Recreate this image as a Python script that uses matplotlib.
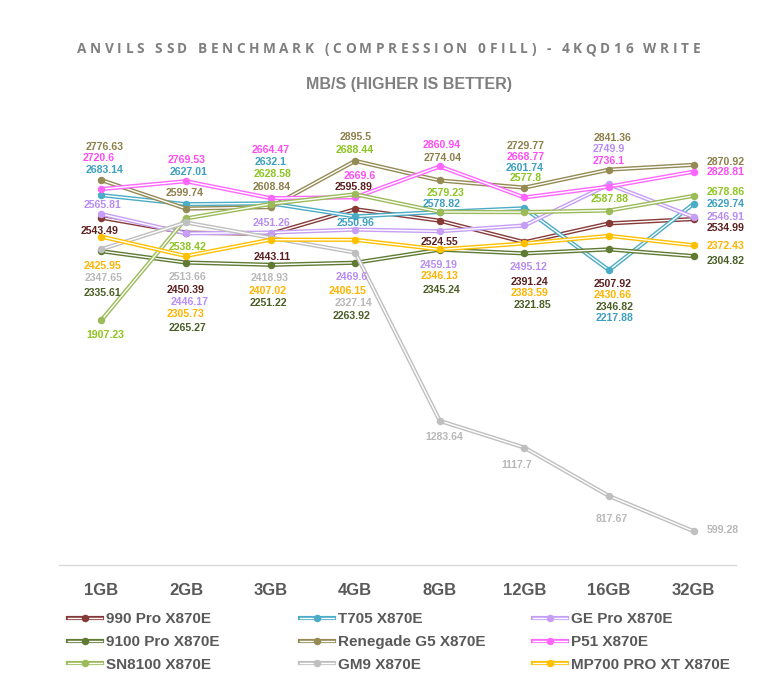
import matplotlib
matplotlib.use("Agg")
import matplotlib.pyplot as plt
from matplotlib.lines import Line2D
from matplotlib.legend_handler import HandlerTuple

categories = ['1GB', '2GB', '3GB', '4GB', '8GB', '12GB', '16GB', '32GB']

series_names = ['990 Pro X870E', 'T705 X870E', 'GE Pro X870E',
                '9100 Pro X870E', 'Renegade G5 X870E', 'P51 X870E',
                'SN8100 X870E', 'GM9 X870E', 'MP700 PRO XT X870E']

pro990 = [2543.49, 2450.39, 2443.11, 2595.89, 2524.55, 2391.24, 2507.92, 2534.99]
t705 = [2683.14, 2627.01, 2632.1, 2550.96, 2578.82, 2601.74, 2217.88, 2629.74]
gepro = [2565.81, 2446.17, 2451.26, 2469.6, 2459.19, 2495.12, 2749.9, 2546.91]
pro9100 = [2335.61, 2265.27, 2251.22, 2263.92, 2345.24, 2321.85, 2346.82, 2304.82]
renegade = [2776.63, 2599.74, 2608.84, 2895.5, 2774.04, 2729.77, 2841.36, 2870.92]
p51 = [2720.6, 2769.53, 2664.47, 2669.6, 2860.94, 2668.77, 2736.1, 2828.81]
sn8100 = [1907.23, 2538.42, 2628.58, 2688.44, 2579.23, 2577.8, 2587.88, 2678.86]
gm9 = [2347.65, 2513.66, 2418.93, 2327.14, 1283.64, 1117.7, 817.67, 599.28]
mp700 = [2425.95, 2305.73, 2407.02, 2406.15, 2346.13, 2383.59, 2430.66, 2372.43]

values = [pro990, t705, gepro, pro9100, renegade, p51, sn8100, gm9, mp700]

line_colors = ['#863a37', '#4bacc6', '#c69ef5', '#5f7a33', '#948a54',
               '#ff66ff', '#9bbb59', '#bfbfbf', '#ffc000']
label_colors = ['#5c1f1f', '#3d9fc0', '#b88cf2', '#4a5e26', '#8c7f4a',
                '#ff4df5', '#8cc520', '#b8b8b8', '#ffb400']

# label placement in pixels relative to the point (dx right, dy down)
label_offsets = [
    [(-2, 13), (0, 57.6), (1.5, 22.8), (-2, -21.9), (0, 21.6), (5, 39.5), (4, 60.6), (13, 8.7)],
    [(3, -25.1), (3, -32.5), (0, -41.1), (0, 6.2), (2, -8), (0, -40), (5, 48.1), (13, 0.3)],
    [(1, -8.8), (4, 68.9), (1, -9.8), (-3.5, 47.7), (-1, 33.7), (4, 41.8), (0, -35.4), (13, 0.2)],
    [(1, 41.5), (2, 65.8), (-2.5, 38.5), (-3.5, 53.2), (2, 40.4), (8, 51.3), (5.6, 57.3), (13, 4.8)],
    [(3.7, -33.4), (-1.4, -15.3), (1.5, -20.4), (0, -24.2), (3, -22.2), (1, -41.6), (3, -31.3), (13, -2.6)],
    [(-3, -30.8), (1, -21.2), (0, -48.2), (5, -21.3), (2, -21.5), (1, -40.2), (0, -25.9), (13, 0.7)],
    [(3.7, 14.7), (2, 28.2), (1.5, -29.6), (0, -44.3), (5.4, -18.6), (1, -33.8), (1, -11.2), (13, -3.5)],
    [(2, 28.5), (2, 54.8), (-1, 39.9), (-2, 50.7), (5, 16.4), (-8, 17.7), (3, 22.6), (13, -1)],
    [(0.7, 29.1), (0, 58), (-2.5, 51), (-8, 50.9), (0, 26.5), (5, 49.8), (4, 59.1), (13, 0.7)],
]

W, H = 780, 692
fig = plt.figure(figsize=(W / 100, H / 100), dpi=100)
ax = fig.add_axes([59 / W, 1 - 565 / H, (736 - 59) / W, (565 - 141) / H])

x = list(range(len(categories)))
PX = 0.72  # pixels -> points

for k, (vals, lc, tc) in enumerate(zip(values, line_colors, label_colors)):
    z = 3 + k * 0.1
    ax.plot(x, vals, color=lc, lw=3.0, zorder=z, clip_on=False)
    ax.plot(x, vals, color='white', lw=1.0, zorder=z + 0.01, clip_on=False)
    ax.plot(x, vals, 'o', color=lc, ms=5.4, mew=0, zorder=z + 0.02, clip_on=False)
    for i, v in enumerate(vals):
        dx, dy = label_offsets[k][i]
        ax.annotate(f"{v:g}", (i, v), xytext=(dx * PX, -dy * PX),
                    textcoords='offset points', ha='left' if i == len(x) - 1 else 'center',
                    va='center', fontsize=7.6, fontweight='bold', color=tc,
                    family=['Liberation Sans', 'DejaVu Sans'], zorder=10)

ax.set_xlim(-0.5, 7.5)
ax.set_ylim(390, 390 + 424 * 6.2)
ax.set_yticks([])
ax.set_xticks(x)
ax.set_xticklabels(categories, fontsize=12, fontweight='bold', color='#595959',
                   family=['Liberation Sans', 'DejaVu Sans'])
ax.tick_params(axis='x', length=0, pad=13)
for s in ['top', 'left', 'right']:
    ax.spines[s].set_visible(False)
ax.spines['bottom'].set_color('#d9d9d9')
ax.spines['bottom'].set_linewidth(1)
ax.patch.set_alpha(0)

# legend, three fixed columns
handles = []
for lc in line_colors:
    h1 = Line2D([], [], color=lc, lw=3.0)
    h2 = Line2D([], [], color='white', lw=1.0)
    h3 = Line2D([], [], color=lc, marker='o', ms=5.4, mew=0, ls='none')
    handles.append((h1, h2, h3))

col_x = [68, 300, 533]
for c in range(3):
    idx = [r * 3 + c for r in range(3)]
    leg = fig.legend([handles[i] for i in idx], [series_names[i] for i in idx],
                     loc='upper left', bbox_to_anchor=(col_x[c] / W, 1 - 612 / H),
                     frameon=False, borderpad=0, borderaxespad=0, handlelength=2.2,
                     handletextpad=0.3, labelspacing=0.58,
                     handler_map={tuple: HandlerTuple(ndivide=1, pad=0)},
                     prop={'family': ['Liberation Sans', 'DejaVu Sans'],
                           'weight': 'bold', 'size': 11})
    for t in leg.get_texts():
        t.set_color('#595959')

# titles
renderer = fig.canvas.get_renderer()


def text_width(s, **kw):
    t = fig.text(0, 0, s, **kw)
    w = t.get_window_extent(renderer).width
    t.remove()
    return w


def spaced_title(s, x0, x1, y, **kw):
    base = text_width('||', **kw)
    widths = [text_width('|' + ch + '|', **kw) - base for ch in s]
    gap = (x1 - x0 - sum(widths)) / (len(s) - 1)
    xp = x0
    for ch, w in zip(s, widths):
        fig.text(xp / W, 1 - y / H, ch, ha='left', va='center', **kw)
        xp += w + gap


spaced_title('ANVILS SSD BENCHMARK (COMPRESSION 0FILL) - 4KQD16 WRITE', 77, 700, 49,
             fontsize=9.8, color='#7f7f7f', family=['Open Sans', 'DejaVu Sans'],
             fontweight='bold')

sub_kw = dict(color='#7f7f7f', family=['Liberation Sans Narrow', 'Liberation Sans', 'DejaVu Sans'],
              fontweight='bold')
sub = 'MB/S (HIGHER IS BETTER)'
w12 = text_width(sub, fontsize=12, **sub_kw)
fig.text(409 / W, 1 - 85 / H, sub, ha='center', va='center',
         fontsize=12 * 205 / w12, **sub_kw)

fig.savefig('out.png', dpi=100)
